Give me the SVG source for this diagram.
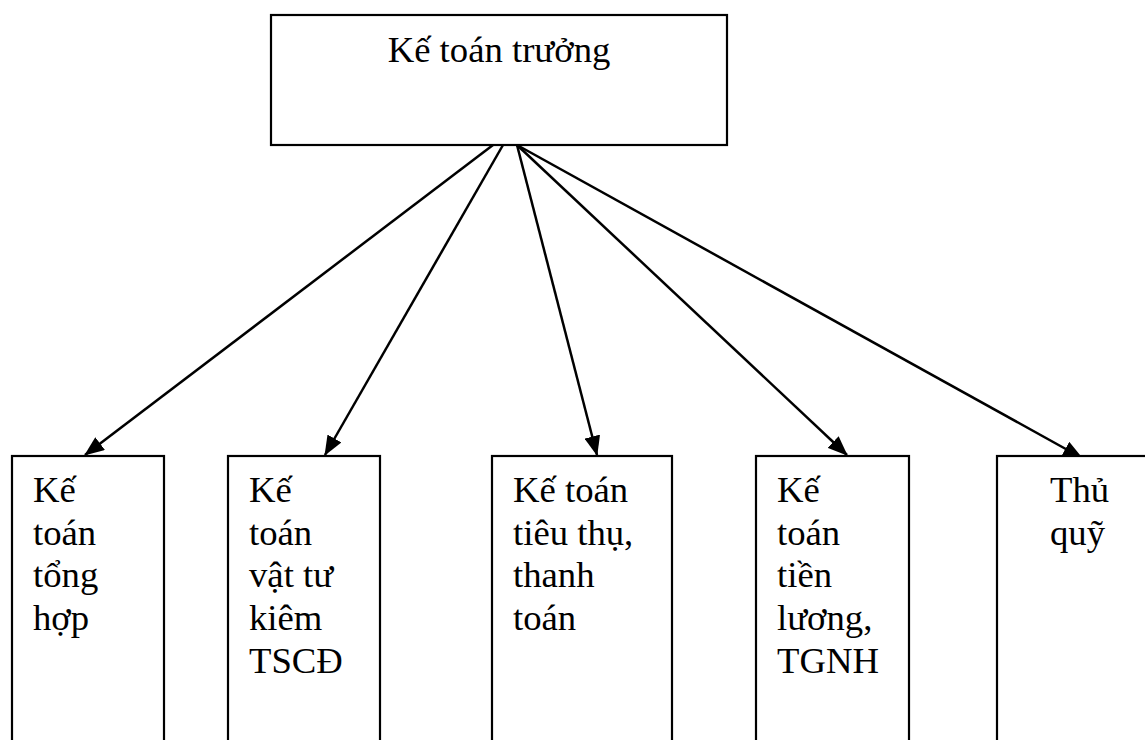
<svg xmlns="http://www.w3.org/2000/svg" width="1145" height="740" viewBox="0 0 1145 740">
<style>
.box{fill:#ffffff;stroke:#000000;stroke-width:2.2}
.t{font-family:"Liberation Serif","Times New Roman",serif;font-size:36.7px;fill:#000000}
.c{stroke:#000000;stroke-width:2.5;fill:none}
</style>
<defs>
<marker id="ah" markerUnits="userSpaceOnUse" markerWidth="20" markerHeight="16" refX="19" refY="8" orient="auto">
<path d="M0,0 L20,8 L0,16 z" fill="#000000"/>
</marker>
</defs>
<rect width="1145" height="740" fill="#ffffff"/>
<g id="connectors">
<line class="c" x1="493" y1="145" x2="85" y2="455" marker-end="url(#ah)"/>
<line class="c" x1="503" y1="145" x2="325" y2="455" marker-end="url(#ah)"/>
<line class="c" x1="517" y1="145" x2="597" y2="455" marker-end="url(#ah)"/>
<line class="c" x1="517" y1="145" x2="847" y2="455" marker-end="url(#ah)"/>
<line class="c" x1="517" y1="145" x2="1082" y2="458" marker-end="url(#ah)"/>
</g>
<g id="ke-toan-truong">
<rect class="box" x="271" y="15" width="456" height="130"/>
<text class="t" x="499" y="62" text-anchor="middle">Kế toán trưởng</text>
</g>
<g id="ke-toan-tong-hop">
<rect class="box" x="12" y="456" width="152" height="320"/>
<text class="t" x="33" y="502">Kế</text>
<text class="t" x="33" y="545">toán</text>
<text class="t" x="33" y="587">tổng</text>
<text class="t" x="33" y="630">hợp</text>
</g>
<g id="ke-toan-vat-tu">
<rect class="box" x="228" y="456" width="152" height="320"/>
<text class="t" x="249" y="502">Kế</text>
<text class="t" x="249" y="545">toán</text>
<text class="t" x="249" y="587">vật tư</text>
<text class="t" x="249" y="630">kiêm</text>
<text class="t" x="249" y="673">TSCĐ</text>
</g>
<g id="ke-toan-tieu-thu">
<rect class="box" x="492" y="456" width="180" height="320"/>
<text class="t" x="513" y="502">Kế toán</text>
<text class="t" x="513" y="545">tiêu thụ,</text>
<text class="t" x="513" y="587">thanh</text>
<text class="t" x="513" y="630">toán</text>
</g>
<g id="ke-toan-tien-luong">
<rect class="box" x="756" y="456" width="153" height="320"/>
<text class="t" x="777" y="502">Kế</text>
<text class="t" x="777" y="545">toán</text>
<text class="t" x="777" y="587">tiền</text>
<text class="t" x="777" y="630">lương,</text>
<text class="t" x="777" y="673">TGNH</text>
</g>
<g id="thu-quy">
<rect class="box" x="997" y="456" width="163" height="320"/>
<text class="t" x="1050" y="502">Thủ</text>
<text class="t" x="1050" y="545">quỹ</text>
</g>
</svg>
